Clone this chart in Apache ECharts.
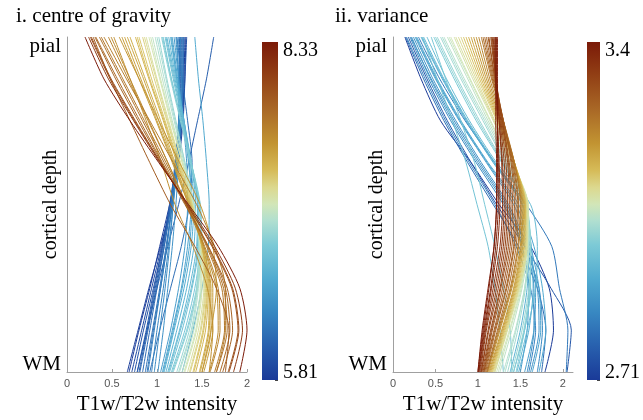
<!DOCTYPE html>
<html><head><meta charset="utf-8">
<script src="https://cdn.jsdelivr.net/npm/echarts@6/dist/echarts.min.js"></script>
<style>html,body{margin:0;padding:0;background:#fff}#c{width:643px;height:420px}</style>
</head><body><div id="c"></div>
<script>
// ---------- data ----------
const depthLevels = [0, 0.125, 0.25, 0.375, 0.5, 0.625, 0.75, 0.875, 1];
const depthTickLabels = ['pial', 'WM'];
const xTickLabels = ['0', '0.5', '1', '1.5', '2'];
const panelTitles = ['i. centre of gravity', 'ii. variance'];
const xAxisTitle = 'T1w/T2w intensity';
const yAxisTitle = 'cortical depth';
const cogRange = [5.81, 8.33];
const varRange = [2.71, 3.4];
const cogRangeLabels = ['5.81', '8.33'];
const varRangeLabels = ['2.71', '3.4'];

const cogValues = [
  5.81, 5.84, 5.90, 5.96, 6.05, 6.00, 6.04, 6.08, 6.15, 6.12, 6.16, 6.20, 6.24, 6.28, 6.33, 6.38,
  6.45, 6.50, 6.54, 6.58, 6.62, 6.55, 6.66, 6.70, 6.74, 6.78, 6.82, 6.86,
  6.92, 6.96, 7.00, 7.05, 7.10, 7.14, 7.19, 7.24, 7.28, 7.33, 7.37, 7.41,
  7.45, 7.48, 7.51, 7.54, 7.57, 7.60, 7.63, 7.67, 7.70, 7.74, 7.78,
  7.82, 7.86, 7.90, 7.95, 8.02, 8.12, 8.33
];
const cogProfiles = [
  [1.31,1.30,1.28,1.23,1.14,1.03,0.92,0.80,0.69],
  [1.32,1.31,1.29,1.24,1.16,1.04,0.91,0.79,0.67],
  [1.29,1.29,1.27,1.22,1.15,1.05,0.94,0.83,0.72],
  [1.33,1.31,1.28,1.23,1.15,1.06,0.96,0.85,0.75],
  [1.63,1.55,1.45,1.35,1.24,1.12,1.00,0.89,0.78],
  [1.27,1.27,1.25,1.21,1.14,1.06,0.97,0.88,0.78],
  [1.26,1.26,1.25,1.21,1.15,1.07,0.98,0.89,0.80],
  [1.30,1.29,1.27,1.23,1.16,1.08,0.99,0.90,0.81],
  [1.22,1.28,1.34,1.39,1.36,1.27,1.15,1.03,0.92],
  [1.25,1.25,1.24,1.20,1.15,1.08,1.00,0.92,0.84],
  [1.28,1.28,1.26,1.22,1.17,1.10,1.03,0.95,0.87],
  [1.29,1.29,1.27,1.23,1.17,1.11,1.04,0.96,0.89],
  [1.24,1.25,1.24,1.21,1.16,1.11,1.04,0.97,0.90],
  [1.26,1.27,1.26,1.23,1.18,1.13,1.07,1.00,0.94],
  [1.22,1.24,1.24,1.22,1.18,1.14,1.09,1.03,0.97],
  [1.21,1.24,1.25,1.24,1.21,1.17,1.12,1.07,1.01],
  [1.19,1.24,1.29,1.33,1.34,1.31,1.24,1.15,1.04],
  [1.17,1.23,1.30,1.36,1.38,1.34,1.27,1.17,1.06],
  [1.16,1.22,1.29,1.35,1.39,1.36,1.28,1.18,1.07],
  [1.15,1.22,1.30,1.37,1.41,1.38,1.30,1.19,1.08],
  [1.13,1.21,1.30,1.38,1.43,1.41,1.33,1.22,1.10],
  [1.42,1.46,1.51,1.55,1.58,1.57,1.50,1.40,1.28],
  [1.11,1.20,1.29,1.38,1.45,1.44,1.36,1.25,1.12],
  [1.10,1.19,1.29,1.38,1.45,1.45,1.38,1.26,1.13],
  [1.09,1.18,1.28,1.38,1.46,1.46,1.39,1.28,1.14],
  [1.07,1.16,1.27,1.38,1.47,1.48,1.42,1.31,1.16],
  [1.06,1.16,1.27,1.38,1.48,1.49,1.44,1.33,1.17],
  [1.05,1.15,1.26,1.37,1.48,1.50,1.45,1.34,1.18],
  [1.02,1.11,1.21,1.31,1.41,1.46,1.44,1.36,1.22],
  [1.00,1.10,1.20,1.31,1.41,1.47,1.45,1.38,1.24],
  [0.98,1.08,1.19,1.30,1.41,1.47,1.46,1.39,1.25],
  [0.95,1.06,1.17,1.29,1.40,1.48,1.48,1.41,1.28],
  [0.93,1.04,1.16,1.28,1.40,1.48,1.49,1.43,1.30],
  [0.91,1.03,1.15,1.28,1.40,1.49,1.50,1.44,1.31],
  [0.88,1.00,1.13,1.26,1.39,1.49,1.52,1.46,1.34],
  [0.86,0.99,1.12,1.26,1.39,1.49,1.53,1.48,1.36],
  [0.84,0.97,1.11,1.25,1.39,1.50,1.54,1.49,1.37],
  [0.80,0.94,1.09,1.24,1.38,1.50,1.55,1.51,1.40],
  [0.78,0.92,1.08,1.23,1.37,1.50,1.56,1.52,1.41],
  [0.76,0.91,1.07,1.22,1.37,1.50,1.57,1.54,1.43],
  [0.70,0.87,1.04,1.20,1.36,1.50,1.58,1.57,1.47],
  [0.67,0.85,1.02,1.19,1.36,1.51,1.59,1.58,1.48],
  [0.64,0.82,1.00,1.18,1.35,1.51,1.60,1.60,1.50],
  [0.61,0.80,0.99,1.17,1.35,1.52,1.62,1.62,1.52],
  [0.58,0.80,1.02,1.25,1.48,1.62,1.66,1.60,1.50],
  [0.52,0.70,0.88,1.05,1.20,1.40,1.56,1.62,1.58],
  [0.49,0.70,0.91,1.12,1.32,1.52,1.66,1.68,1.58],
  [0.46,0.68,0.90,1.12,1.33,1.53,1.68,1.70,1.59],
  [0.41,0.66,0.92,1.18,1.44,1.64,1.76,1.76,1.66],
  [0.38,0.62,0.86,1.10,1.33,1.55,1.72,1.75,1.64],
  [0.36,0.60,0.84,1.08,1.32,1.56,1.74,1.78,1.66],
  [0.32,0.56,0.81,1.06,1.32,1.57,1.76,1.81,1.70],
  [0.31,0.54,0.79,1.05,1.31,1.57,1.78,1.84,1.73],
  [0.29,0.48,0.70,0.92,1.15,1.42,1.66,1.80,1.76],
  [0.27,0.49,0.76,1.04,1.33,1.61,1.83,1.90,1.79],
  [0.26,0.48,0.75,1.04,1.33,1.62,1.84,1.91,1.80],
  [0.24,0.46,0.74,1.03,1.34,1.64,1.87,1.95,1.85],
  [0.20,0.41,0.70,1.02,1.35,1.68,1.92,2.00,1.92]
];

const varValues = [
  2.71, 2.80, 2.76, 2.84, 2.82, 2.85, 2.86, 2.87, 2.88, 2.89, 2.90, 2.91, 2.92, 2.93, 2.94, 2.95, 2.97, 2.98,
  2.99, 3.00, 3.01, 3.02, 3.03, 3.04, 3.05, 3.06, 3.07, 3.08,
  3.09, 3.10, 3.11, 3.13, 3.14, 3.16, 3.17, 3.19, 3.20, 3.22, 3.24, 3.26, 3.27,
  3.28, 3.29, 3.30, 3.31, 3.32, 3.33, 3.34, 3.35, 3.36, 3.37, 3.38, 3.39, 3.40
];
const varProfiles = [
  [0.14,0.33,0.56,0.92,1.25,1.62,1.84,1.89,1.79],
  [0.15,0.36,0.60,0.88,1.18,1.48,1.70,1.80,1.75],
  [0.18,0.40,0.64,0.92,1.22,1.55,1.86,2.10,2.05],
  [0.16,0.38,0.62,0.90,1.20,1.45,1.62,1.68,1.60],
  [0.30,0.55,0.85,1.20,1.57,1.87,1.96,2.06,2.04],
  [0.20,0.42,0.68,0.98,1.30,1.55,1.72,1.76,1.70],
  [0.21,0.45,0.72,1.02,1.34,1.56,1.66,1.66,1.58],
  [0.24,0.47,0.74,1.04,1.36,1.58,1.70,1.72,1.62],
  [0.22,0.44,0.70,1.00,1.32,1.52,1.60,1.58,1.50],
  [0.26,0.50,0.78,1.10,1.42,1.60,1.68,1.66,1.55],
  [0.27,0.51,0.79,1.11,1.45,1.62,1.72,1.74,1.64],
  [0.28,0.52,0.80,1.12,1.48,1.66,1.76,1.80,1.72],
  [0.33,0.58,0.86,1.18,1.52,1.63,1.65,1.60,1.48],
  [0.34,0.59,0.87,1.19,1.53,1.60,1.58,1.50,1.38],
  [0.36,0.60,0.88,1.20,1.55,1.62,1.62,1.55,1.42],
  [0.40,0.63,0.90,1.22,1.62,1.70,1.68,1.58,1.46],
  [0.35,0.52,0.70,0.86,0.99,1.12,1.20,1.26,1.30],
  [0.45,0.62,0.80,0.96,1.08,1.20,1.30,1.38,1.40],
  [0.48,0.72,0.98,1.28,1.56,1.62,1.62,1.55,1.45],
  [0.50,0.74,1.00,1.29,1.56,1.62,1.61,1.54,1.42],
  [0.52,0.76,1.02,1.30,1.57,1.62,1.60,1.52,1.40],
  [0.56,0.80,1.06,1.32,1.58,1.60,1.56,1.47,1.35],
  [0.58,0.82,1.08,1.33,1.58,1.60,1.55,1.45,1.32],
  [0.60,0.84,1.10,1.35,1.58,1.60,1.55,1.44,1.30],
  [0.64,0.88,1.12,1.37,1.59,1.59,1.52,1.40,1.26],
  [0.66,0.90,1.14,1.38,1.59,1.58,1.51,1.38,1.24],
  [0.68,0.91,1.15,1.39,1.59,1.58,1.50,1.37,1.22],
  [0.72,0.94,1.18,1.41,1.59,1.57,1.48,1.34,1.20],
  [0.74,0.96,1.19,1.41,1.58,1.58,1.49,1.35,1.20],
  [0.77,0.98,1.20,1.42,1.57,1.57,1.48,1.34,1.19],
  [0.80,1.00,1.22,1.42,1.57,1.56,1.47,1.33,1.18],
  [0.83,1.02,1.23,1.43,1.56,1.55,1.46,1.32,1.17],
  [0.86,1.04,1.24,1.43,1.56,1.54,1.45,1.31,1.16],
  [0.89,1.06,1.25,1.43,1.55,1.53,1.44,1.30,1.15],
  [0.92,1.08,1.26,1.43,1.54,1.52,1.43,1.29,1.14],
  [0.95,1.10,1.27,1.43,1.53,1.51,1.42,1.28,1.13],
  [0.98,1.12,1.28,1.43,1.52,1.50,1.40,1.26,1.12],
  [1.01,1.14,1.29,1.43,1.51,1.48,1.39,1.25,1.11],
  [1.04,1.16,1.30,1.43,1.50,1.47,1.38,1.24,1.11],
  [1.06,1.17,1.30,1.42,1.48,1.45,1.36,1.23,1.10],
  [1.08,1.18,1.30,1.41,1.47,1.43,1.34,1.21,1.09],
  [1.10,1.19,1.30,1.40,1.45,1.42,1.33,1.20,1.08],
  [1.12,1.20,1.30,1.39,1.43,1.40,1.31,1.19,1.07],
  [1.13,1.20,1.29,1.37,1.41,1.38,1.29,1.17,1.07],
  [1.15,1.21,1.29,1.36,1.39,1.36,1.27,1.16,1.06],
  [1.16,1.21,1.28,1.35,1.37,1.34,1.26,1.15,1.05],
  [1.17,1.21,1.27,1.33,1.35,1.32,1.24,1.13,1.04],
  [1.18,1.21,1.26,1.31,1.33,1.30,1.22,1.12,1.04],
  [1.19,1.21,1.25,1.29,1.31,1.28,1.20,1.10,1.03],
  [1.21,1.22,1.25,1.28,1.29,1.26,1.18,1.09,1.02],
  [1.20,1.21,1.23,1.25,1.26,1.23,1.16,1.08,1.01],
  [1.22,1.22,1.23,1.24,1.24,1.21,1.15,1.07,1.01],
  [1.21,1.21,1.21,1.22,1.22,1.19,1.13,1.06,1.00],
  [1.23,1.23,1.23,1.23,1.22,1.19,1.12,1.05,1.00]
];

// ---------- style ----------
const cmapStops = [
  [0,'#1a3a98'],[0.1,'#2860ae'],[0.2,'#3888c2'],[0.3,'#52abd0'],[0.4,'#7dcad6'],
  [0.47,'#b0dfd0'],[0.52,'#d2e6b8'],[0.57,'#dcd88e'],[0.62,'#d6bb58'],[0.7,'#c29432'],
  [0.8,'#a96826'],[0.9,'#924015'],[1,'#7b1a08']
];
function hex2rgb(h){return [parseInt(h.substr(1,2),16),parseInt(h.substr(3,2),16),parseInt(h.substr(5,2),16)];}
function cmap(f){
  f = Math.max(0, Math.min(1, f));
  for (let i = 1; i < cmapStops.length; i++) {
    if (f <= cmapStops[i][0]) {
      const a = cmapStops[i-1], b = cmapStops[i];
      const t = (f - a[0]) / (b[0] - a[0]);
      const ca = hex2rgb(a[1]), cb = hex2rgb(b[1]);
      return 'rgb(' + ca.map((v,k)=>Math.round(v + (cb[k]-v)*t)).join(',') + ')';
    }
  }
  return cmapStops[cmapStops.length-1][1];
}
const barGradient = {
  type: 'linear', x: 0, y: 0, x2: 0, y2: 1,
  colorStops: cmapStops.slice().reverse().map(s => ({offset: 1 - s[0], color: s[1]}))
};

const SERIF = 'Liberation Serif';
const SANS = 'Liberation Sans';
const cbDivisions = 5;

const panels = [
  {left: 67, xMax: 2, cbLeft: 262, values: cogValues, profiles: cogProfiles, range: cogRange, rangeLabels: cogRangeLabels},
  {left: 393, xMax: 2.12, cbLeft: 587, values: varValues, profiles: varProfiles, range: varRange, rangeLabels: varRangeLabels}
];

const grid = [], xAxis = [], yAxis = [], series = [];
panels.forEach((p, pi) => {
  const gi = grid.length;
  grid.push({left: p.left, top: 37, width: 180, height: 336});
  xAxis.push({
    gridIndex: gi, type: 'value', min: 0, max: p.xMax, interval: 0.5, position: 'bottom',
    axisLine: {show: true, onZero: false, lineStyle: {color: '#a0a0a0', width: 1}},
    axisTick: {show: true, inside: true, length: 3, lineStyle: {color: '#a0a0a0'}},
    splitLine: {show: false},
    axisLabel: {
      margin: 6, fontSize: 11, color: '#555', fontFamily: SANS,
      showMaxLabel: p.xMax === 2,
      formatter: v => { const s = String(+v.toFixed(2)); return xTickLabels.indexOf(s) >= 0 ? s : ''; }
    },
    name: xAxisTitle, nameLocation: 'middle', nameGap: 22, nameMoveOverlap: false,
    nameTextStyle: {fontFamily: SERIF, fontSize: 21, color: '#000'}
  });
  yAxis.push({
    gridIndex: gi, type: 'value', min: 0, max: 1, interval: 1, inverse: true,
    axisLine: {show: true, onZero: false, lineStyle: {color: '#a0a0a0', width: 1}},
    axisTick: {show: false}, splitLine: {show: false},
    axisLabel: {
      margin: 6, fontFamily: SERIF, fontSize: 21, color: '#000',
      formatter: v => v === 0 ? '{p|' + depthTickLabels[0] + '}' : (v === 1 ? '{w|' + depthTickLabels[1] + '}' : ''),
      rich: {
        p: {fontFamily: SERIF, fontSize: 21, color: '#000', padding: [19, 0, 0, 0]},
        w: {fontFamily: SERIF, fontSize: 21, color: '#000', padding: [0, 0, 16, 0]}
      }
    },
    name: yAxisTitle, nameLocation: 'middle', nameGap: 6, nameMoveOverlap: false,
    nameTextStyle: {fontFamily: SERIF, fontSize: 20, color: '#000'}
  });
  p.profiles.forEach((prof, li) => {
    const f = (p.values[li] - p.range[0]) / (p.range[1] - p.range[0]);
    series.push({
      type: 'line', xAxisIndex: gi, yAxisIndex: gi, silent: true,
      data: prof.map((x, k) => [x, depthLevels[k]]),
      showSymbol: false, symbol: 'none', smooth: 0.25,
      lineStyle: {width: 1, color: cmap(f)}
    });
  });
  // colour bar
  const ci = grid.length;
  grid.push({left: p.cbLeft, top: 42, width: 16, height: 338});
  xAxis.push({gridIndex: ci, type: 'category', data: ['c'], show: false});
  yAxis.push({
    gridIndex: ci, type: 'value', min: 0, max: cbDivisions, interval: 1, position: 'right',
    axisLine: {show: false}, splitLine: {show: false},
    axisTick: {show: true, inside: true, length: 3, lineStyle: {color: '#444'}},
    axisLabel: {
      margin: 5, fontFamily: SERIF, fontSize: 20, color: '#000',
      formatter: v => v === cbDivisions ? '{hi|' + p.rangeLabels[1] + '}' : (v === 0 ? '{lo|' + p.rangeLabels[0] + '}' : ''),
      rich: {
        hi: {fontFamily: SERIF, fontSize: 20, color: '#000', padding: [18, 0, 0, 0]},
        lo: {fontFamily: SERIF, fontSize: 20, color: '#000', padding: [0, 0, 14, 0]}
      }
    }
  });
  series.push({
    type: 'bar', xAxisIndex: ci, yAxisIndex: ci, silent: true,
    data: [cbDivisions], barWidth: '100%', z: 1,
    itemStyle: {color: barGradient}
  });
});

const chart = echarts.init(document.getElementById('c'), null, {renderer: 'canvas'});
chart.setOption({
  animation: false,
  backgroundColor: '#fff',
  title: [
    {text: panelTitles[0], left: 16, top: 6, padding: 0, textStyle: {fontFamily: SERIF, fontSize: 21, fontWeight: 'normal', color: '#000'}},
    {text: panelTitles[1], left: 335, top: 6, padding: 0, textStyle: {fontFamily: SERIF, fontSize: 21, fontWeight: 'normal', color: '#000'}}
  ],
  grid, xAxis, yAxis, series
});
</script>
</body></html>
